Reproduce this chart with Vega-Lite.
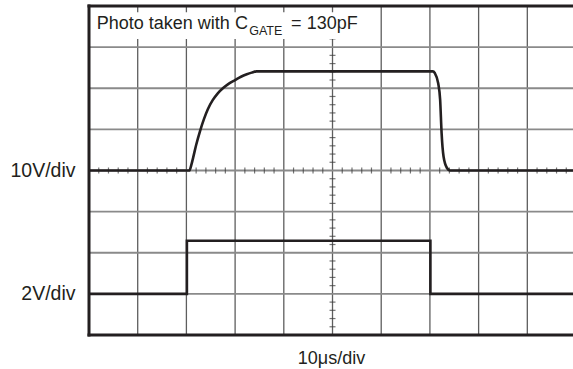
{
  "$schema": "https://vega.github.io/schema/vega-lite/v6.json",
  "width": 484,
  "height": 329,
  "autosize": {"type": "none"},
  "padding": {"left": 89, "top": 6, "right": 0, "bottom": 34},
  "background": "white",
  "config": {"view": {"stroke": null}, "font": "Liberation Sans"},
  "datasets": {
    "vgrid": [
      {"x": 1, "y": 0, "y2": 8}, {"x": 2, "y": 0, "y2": 8}, {"x": 3, "y": 0, "y2": 8},
      {"x": 4, "y": 0, "y2": 8}, {"x": 5, "y": 0, "y2": 8}, {"x": 6, "y": 0, "y2": 8},
      {"x": 7, "y": 0, "y2": 8}, {"x": 8, "y": 0, "y2": 8}, {"x": 9, "y": 0, "y2": 8}
    ],
    "hgrid": [
      {"y": 1, "x": 0, "x2": 9.938}, {"y": 2, "x": 0, "x2": 9.938}, {"y": 3, "x": 0, "x2": 9.938},
      {"y": 4, "x": 0, "x2": 9.938}, {"y": 5, "x": 0, "x2": 9.938}, {"y": 6, "x": 0, "x2": 9.938},
      {"y": 7, "x": 0, "x2": 9.938}
    ],
    "hticks": [
      {"x": 0.2, "y": 4}, {"x": 0.4, "y": 4}, {"x": 0.6, "y": 4}, {"x": 0.8, "y": 4},
      {"x": 1.2, "y": 4}, {"x": 1.4, "y": 4}, {"x": 1.6, "y": 4}, {"x": 1.8, "y": 4},
      {"x": 2.2, "y": 4}, {"x": 2.4, "y": 4}, {"x": 2.6, "y": 4}, {"x": 2.8, "y": 4},
      {"x": 3.2, "y": 4}, {"x": 3.4, "y": 4}, {"x": 3.6, "y": 4}, {"x": 3.8, "y": 4},
      {"x": 4.2, "y": 4}, {"x": 4.4, "y": 4}, {"x": 4.6, "y": 4}, {"x": 4.8, "y": 4},
      {"x": 5.2, "y": 4}, {"x": 5.4, "y": 4}, {"x": 5.6, "y": 4}, {"x": 5.8, "y": 4},
      {"x": 6.2, "y": 4}, {"x": 6.4, "y": 4}, {"x": 6.6, "y": 4}, {"x": 6.8, "y": 4},
      {"x": 7.2, "y": 4}, {"x": 7.4, "y": 4}, {"x": 7.6, "y": 4}, {"x": 7.8, "y": 4},
      {"x": 8.2, "y": 4}, {"x": 8.4, "y": 4}, {"x": 8.6, "y": 4}, {"x": 8.8, "y": 4},
      {"x": 9.2, "y": 4}, {"x": 9.4, "y": 4}, {"x": 9.6, "y": 4}, {"x": 9.8, "y": 4}
    ],
    "vticks": [
      {"x": 5, "y": 0.2}, {"x": 5, "y": 0.4}, {"x": 5, "y": 0.6}, {"x": 5, "y": 0.8},
      {"x": 5, "y": 1.2}, {"x": 5, "y": 1.4}, {"x": 5, "y": 1.6}, {"x": 5, "y": 1.8},
      {"x": 5, "y": 2.2}, {"x": 5, "y": 2.4}, {"x": 5, "y": 2.6}, {"x": 5, "y": 2.8},
      {"x": 5, "y": 3.2}, {"x": 5, "y": 3.4}, {"x": 5, "y": 3.6}, {"x": 5, "y": 3.8},
      {"x": 5, "y": 4.2}, {"x": 5, "y": 4.4}, {"x": 5, "y": 4.6}, {"x": 5, "y": 4.8},
      {"x": 5, "y": 5.2}, {"x": 5, "y": 5.4}, {"x": 5, "y": 5.6}, {"x": 5, "y": 5.8},
      {"x": 5, "y": 6.2}, {"x": 5, "y": 6.4}, {"x": 5, "y": 6.6}, {"x": 5, "y": 6.8},
      {"x": 5, "y": 7.2}, {"x": 5, "y": 7.4}, {"x": 5, "y": 7.6}, {"x": 5, "y": 7.8}
    ],
    "box": [{"x": 0.04, "x2": 5.95, "y": 7.2, "y2": 7.85}],
    "lower": [
      {"i": 0, "x": 0, "y": 1}, {"i": 1, "x": 2.01, "y": 1}, {"i": 2, "x": 2.01, "y": 2.29},
      {"i": 3, "x": 7.01, "y": 2.29}, {"i": 4, "x": 7.01, "y": 1}, {"i": 5, "x": 9.938, "y": 1}
    ],
    "upper": [
      {"i": 0, "x": 0, "y": 4}, {"i": 1, "x": 2.06, "y": 4}, {"i": 2, "x": 2.1, "y": 4.13},
      {"i": 3, "x": 2.14, "y": 4.32}, {"i": 4, "x": 2.2, "y": 4.62}, {"i": 5, "x": 2.28, "y": 4.96},
      {"i": 6, "x": 2.36, "y": 5.25}, {"i": 7, "x": 2.44, "y": 5.49}, {"i": 8, "x": 2.54, "y": 5.71},
      {"i": 9, "x": 2.64, "y": 5.87}, {"i": 10, "x": 2.76, "y": 6.01}, {"i": 11, "x": 2.88, "y": 6.12},
      {"i": 12, "x": 3.0, "y": 6.2}, {"i": 13, "x": 3.12, "y": 6.28}, {"i": 14, "x": 3.24, "y": 6.34},
      {"i": 15, "x": 3.34, "y": 6.38}, {"i": 16, "x": 3.44, "y": 6.41}, {"i": 17, "x": 7.06, "y": 6.41},
      {"i": 18, "x": 7.1, "y": 6.37}, {"i": 19, "x": 7.17, "y": 6.12}, {"i": 20, "x": 7.21, "y": 5.72},
      {"i": 21, "x": 7.24, "y": 4.91}, {"i": 22, "x": 7.28, "y": 4.34}, {"i": 23, "x": 7.35, "y": 4.06},
      {"i": 24, "x": 7.41, "y": 4.0}, {"i": 25, "x": 9.938, "y": 4.0}
    ],
    "frame": [
      {"x": 0, "x2": 0, "y": 0, "y2": 8},
      {"x": 0, "x2": 9.938, "y": 8, "y2": 8},
      {"x": 0, "x2": 9.938, "y": 0, "y2": 0}
    ],
    "mainText": [
      {"t": "Photo taken with C", "x": 0.16, "y": 7.43},
      {"t": "= 130pF", "x": 4.15, "y": 7.43}
    ],
    "subText": [{"t": "GATE", "x": 3.29, "y": 7.3}]
  },
  "encoding": {
    "x": {
      "field": "x", "type": "quantitative",
      "scale": {"domain": [0, 9.938], "nice": false, "zero": false},
      "axis": {
        "labels": false, "ticks": false, "domain": false, "grid": false,
        "title": "10μs/div", "titleFontSize": 18, "titleFontWeight": "normal",
        "titleColor": "#231f20", "titlePadding": 14, "titleFont": "Liberation Sans"
      }
    },
    "y": {
      "field": "y", "type": "quantitative",
      "scale": {"domain": [0, 8], "nice": false, "zero": false},
      "axis": {
        "values": [1, 4], "labelExpr": "datum.value == 4 ? '10V/div' : '2V/div'",
        "ticks": false, "domain": false, "grid": false, "title": null,
        "labelFontSize": 19.5, "labelColor": "#231f20", "labelPadding": 14,
        "labelBaseline": "middle", "labelFont": "Liberation Sans"
      }
    }
  },
  "layer": [
    {
      "data": {"name": "vgrid"},
      "mark": {"type": "rule", "color": "#5e5e5e", "strokeWidth": 1.3},
      "encoding": {"y2": {"field": "y2"}}
    },
    {
      "data": {"name": "hgrid"},
      "mark": {"type": "rule", "color": "#8a8a8a", "strokeWidth": 1.8},
      "encoding": {"x2": {"field": "x2"}}
    },
    {
      "data": {"name": "hticks"},
      "mark": {"type": "tick", "orient": "vertical", "color": "#3a3a3a", "size": 6, "thickness": 1.2}
    },
    {
      "data": {"name": "vticks"},
      "mark": {"type": "tick", "orient": "horizontal", "color": "#3a3a3a", "size": 6, "thickness": 1.2}
    },
    {
      "data": {"name": "box"},
      "mark": {"type": "rect", "color": "white"},
      "encoding": {"x2": {"field": "x2"}, "y2": {"field": "y2"}}
    },
    {
      "data": {"name": "lower"},
      "mark": {"type": "line", "color": "#231f20", "strokeWidth": 2.6, "interpolate": "linear", "strokeJoin": "miter"},
      "encoding": {"order": {"field": "i", "type": "quantitative"}}
    },
    {
      "data": {"name": "upper"},
      "mark": {"type": "line", "color": "#231f20", "strokeWidth": 2.6, "interpolate": "monotone"},
      "encoding": {"order": {"field": "i", "type": "quantitative"}}
    },
    {
      "data": {"name": "frame"},
      "mark": {"type": "rule", "color": "#231f20", "strokeWidth": 3, "strokeCap": "square"},
      "encoding": {"x2": {"field": "x2"}, "y2": {"field": "y2"}}
    },
    {
      "data": {"name": "mainText"},
      "mark": {"type": "text", "align": "left", "baseline": "alphabetic", "fontSize": 18, "color": "#231f20", "font": "Liberation Sans"},
      "encoding": {"text": {"field": "t"}}
    },
    {
      "data": {"name": "subText"},
      "mark": {"type": "text", "align": "left", "baseline": "alphabetic", "fontSize": 12.5, "color": "#231f20", "font": "Liberation Sans"},
      "encoding": {"text": {"field": "t"}}
    }
  ]
}
